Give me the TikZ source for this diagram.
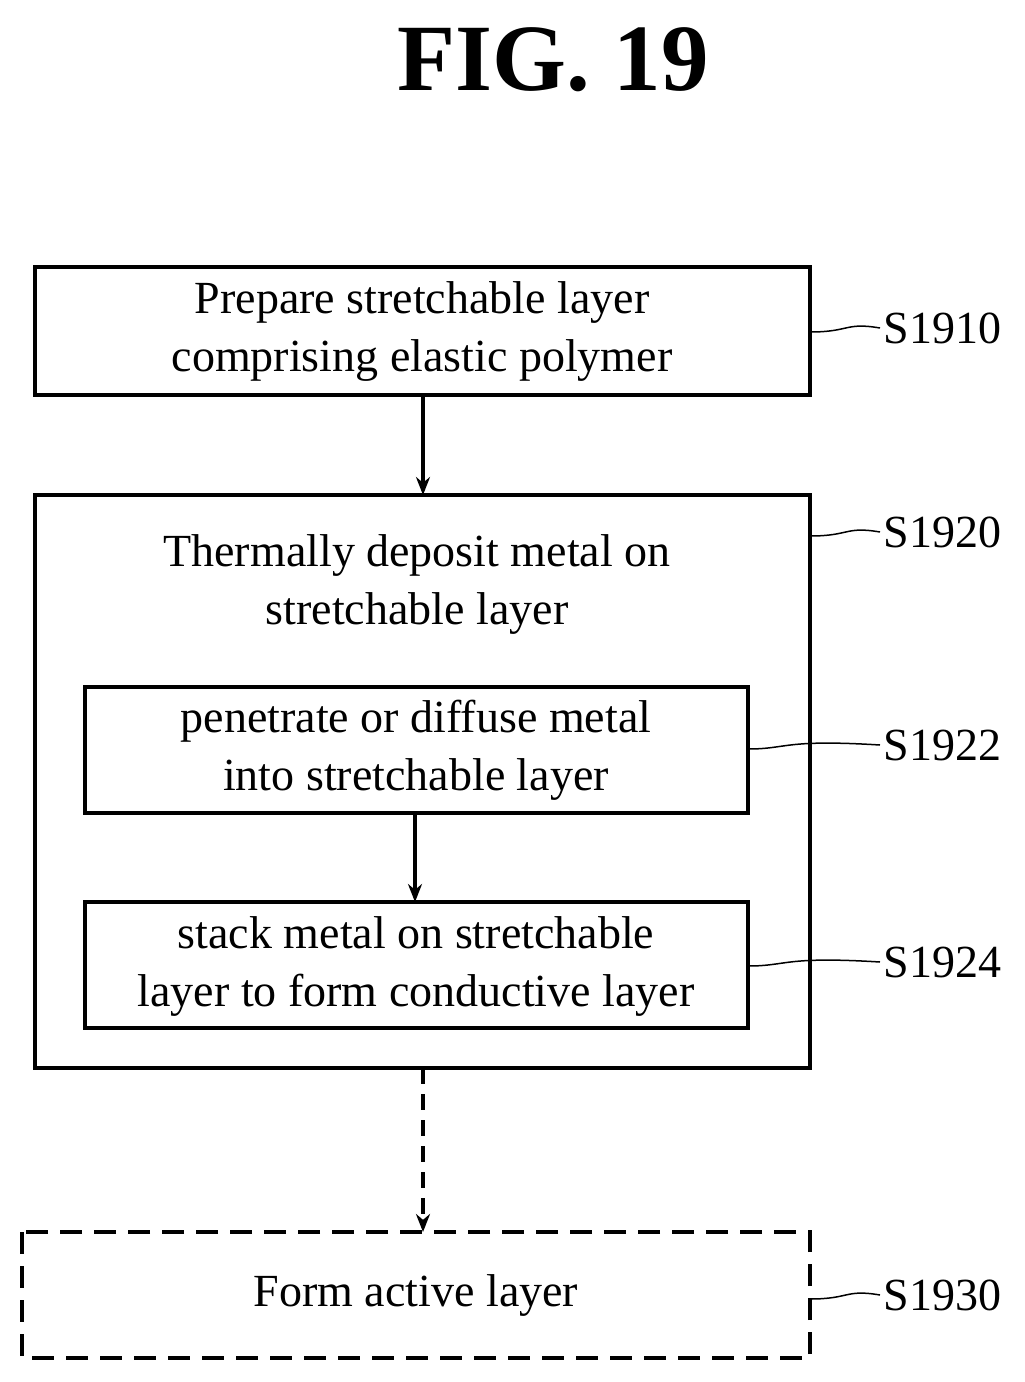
\documentclass[tikz,border=0pt]{standalone}
\usepackage{fontspec}
\setmainfont{Liberation Serif}
\usetikzlibrary{arrows.meta}
\tikzset{
  box/.style={draw, line width=3.8pt},
  txt/.style={font=\fontsize{46}{58}\selectfont, align=center},
  flow/.style={-{Stealth[length=18pt,width=14pt]}, line width=3.5pt},
  tag/.style={font=\fontsize{46}{50}\selectfont, anchor=west},
  wave/.style={line width=1.5pt}
}
\begin{document}
\begin{tikzpicture}[x=1pt, y=-1pt]
  \useasboundingbox (0,0) rectangle (1025,1382);

  \node[font=\bfseries\fontsize{95}{100}\selectfont] (title) at (553,60) {FIG. 19};

  % Kaesten
  \draw[box] (35,267) rectangle (810,395);
  \node[txt] (s1910) at (422,331) {Prepare stretchable layer\\comprising elastic polymer};
  \draw[box] (35,495) rectangle (810,1068);
  \node[txt] (s1920) at (417,584) {Thermally deposit metal on\\stretchable layer};
  \draw[box] (85,687) rectangle (748,813);
  \node[txt] (s1922) at (416,750) {penetrate or diffuse metal\\into stretchable layer};
  \draw[box] (85,902) rectangle (748,1028);
  \node[txt] (s1924) at (416,966) {stack metal on stretchable\\layer to form conductive layer};
  \draw[box, dash pattern=on 22pt off 12pt] (22,1232) rectangle (810,1358);
  \node[txt] (s1930) at (416,1295) {Form active layer};

  % Pfeile
  \coordinate (a1) at (423,395); \coordinate (b1) at (423,495);
  \coordinate (a2) at (415,813); \coordinate (b2) at (415,902);
  \coordinate (a3) at (423,1068); \coordinate (b3) at (423,1232);
  \draw[flow] (a1) -- (b1);
  \draw[flow] (a2) -- (b2);
  \draw[flow, dash pattern=on 16pt off 10pt] (a3) -- (b3);

  % Bezugszeichen
  \foreach \y/\x/\lab in {328/810/S1910, 532/810/S1920, 745/748/S1922, 962/748/S1924, 1295/810/S1930}{
    \node[tag] (t\lab) at (880,\y) {\lab};
    \draw[wave] (\x,\y+4) .. controls (\x+40,\y+4) and (\x+35,\y-6) .. (t\lab.west);
  }
\end{tikzpicture}
\end{document}
